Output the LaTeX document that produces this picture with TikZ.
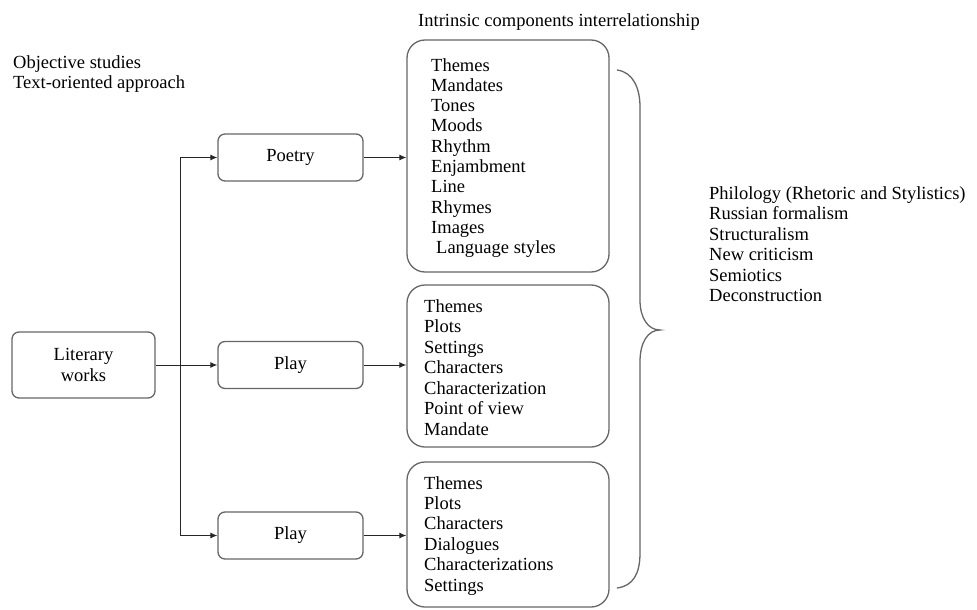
\documentclass[tikz,border=0pt]{standalone}
\usepackage{fontspec}
\setmainfont{Liberation Serif}
\usetikzlibrary{arrows.meta}
\begin{document}
\begin{tikzpicture}[x=1pt,y=-1pt,
  every node/.style={font=\fontsize{18.5}{20.5}\selectfont, inner sep=0pt},
  genre/.style={draw=black!60, line width=1.3pt, rounded corners=7pt,
    minimum width=145pt, minimum height=47pt},
  listbox/.style={draw=black!60, line width=1.3pt, rounded corners=18pt,
    minimum width=202pt},
  link/.style={-{Latex[length=7pt,width=6pt]}, line width=1pt, black!85},
  item/.style={anchor=base west},
  brace line/.style={draw=black!60, line width=1.3pt}]
\useasboundingbox (0,0) rectangle (977,610);

% headings
\node[item] (title) at (418,27) {Intrinsic components interrelationship};
\node[item] (obj1) at (13,68) {Objective studies};
\node[item] (obj2) at (13,88.5) {Text-oriented approach};

% source and genres
\node[genre, minimum width=143pt, minimum height=66pt, align=center] (lit) at (83.5,365) {Literary\\works};
\node[genre] (poetry) at (290.5,157.5) {Poetry};
\node[genre] (play1) at (290.5,365) {Play};
\node[genre] (play2) at (290.5,535.5) {Play};

% component boxes
\node[listbox, minimum height=232pt] (pl) at (508,156) {};
\node[listbox, minimum height=162pt] (ml) at (508,366) {};
\node[listbox, minimum height=145pt] (bl) at (508,534.5) {};

\foreach \t [count=\i] in {Themes, Mandates, Tones, Moods, Rhythm, Enjambment,
    Line, Rhymes, Images, {\hspace{5pt}Language styles}}
  \node[item] (p\i) at (431,{71+(\i-1)*20.3}) {\t};
\foreach \t [count=\i] in {Themes, Plots, Settings, Characters, Characterization,
    Point of view, Mandate}
  \node[item] (m\i) at (424,{312+(\i-1)*20.5}) {\t};
\foreach \t [count=\i] in {Themes, Plots, Characters, Dialogues, Characterizations,
    Settings}
  \node[item] (b\i) at (424,{489+(\i-1)*20.4}) {\t};

% connectors
\coordinate (trunk) at (180,365);
\draw[link] (lit.east) -- (play1.west);
\draw[link] (trunk) |- (poetry.west);
\draw[link] (trunk) |- (play2.west);
\draw[link] (poetry.east) -- (poetry.east -| pl.west);
\draw[link] (play1.east) -- (play1.east -| ml.west);
\draw[link] (play2.east) -- (play2.east -| bl.west);

% brace
\coordinate (btop) at (617,70);
\coordinate (btip) at (660,330);
\coordinate (bbot) at (617,588);
\draw[brace line] (btop) .. controls (633,72) and (640,88) .. (640,107)
  -- (640,300) .. controls (640,318) and (648,330) .. (btip)
  .. controls (648,330) and (640,342) .. (640,362)
  -- (640,553) .. controls (640,574) and (633,586) .. (bbot);

% approaches
\foreach \t [count=\i] in {Philology (Rhetoric and Stylistics), Russian formalism,
    Structuralism, New criticism, Semiotics, Deconstruction}
  \node[item] (r\i) at (709,{199+(\i-1)*20.5}) {\t};
\end{tikzpicture}
\end{document}
